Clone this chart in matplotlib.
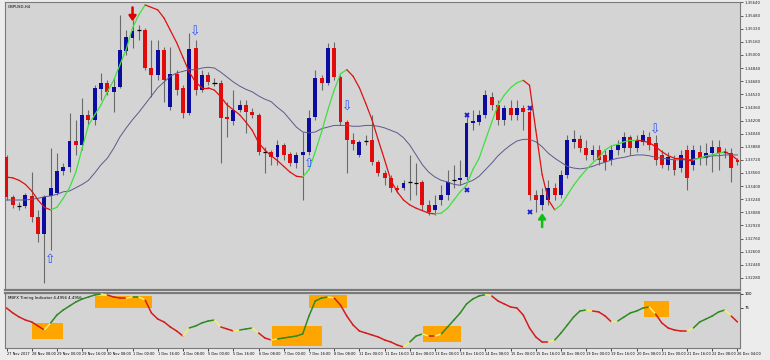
import numpy as np
import matplotlib
matplotlib.use("Agg")
import matplotlib.pyplot as plt
from matplotlib.collections import LineCollection
from matplotlib.patches import Rectangle

# GBPUSD H4 candles
opens = [1.3375, 1.3327, 1.3317, 1.3316, 1.3328, 1.3302, 1.3282, 1.3328, 1.3332, 1.3358,
         1.3363, 1.3395, 1.3390, 1.3427, 1.3421, 1.3458, 1.3466, 1.3455, 1.3461, 1.3505,
         1.3521, 1.3530, 1.3530, 1.3484, 1.3476, 1.3506, 1.3436, 1.3477, 1.3460, 1.3429,
         1.3508, 1.3457, 1.3476, 1.3467, 1.3466, 1.3424, 1.3419, 1.3433, 1.3439, 1.3430,
         1.3427, 1.3382, 1.3382, 1.3375, 1.3390, 1.3379, 1.3368, 1.3378, 1.3382, 1.3424,
         1.3472, 1.3466, 1.3508, 1.3473, 1.3418, 1.3396, 1.3378, 1.3396, 1.3396, 1.3369,
         1.3356, 1.3350, 1.3338, 1.3338, 1.3344, 1.3345, 1.3345, 1.3317, 1.3311, 1.3323,
         1.3329, 1.3347, 1.3347, 1.3351, 1.3417, 1.3418, 1.3427, 1.3449, 1.3439, 1.3421,
         1.3435, 1.3427, 1.3435, 1.3430, 1.3329, 1.3317, 1.3323, 1.3338, 1.3329, 1.3354,
         1.3394, 1.3398, 1.3386, 1.3378, 1.3384, 1.3378, 1.3372, 1.3384, 1.3386, 1.3400,
         1.3386, 1.3394, 1.3400, 1.3393, 1.3378, 1.3366, 1.3372, 1.3362, 1.3384, 1.3366,
         1.3382, 1.3374, 1.3380, 1.3388, 1.3380, 1.3380, 1.3372]
highs = [1.3378, 1.3329, 1.3321, 1.3332, 1.3357, 1.3311, 1.3329, 1.3386, 1.3380, 1.3368,
         1.3429, 1.3421, 1.3447, 1.3433, 1.3463, 1.3478, 1.3469, 1.3472, 1.3549, 1.3530,
         1.3543, 1.3537, 1.3533, 1.3518, 1.3518, 1.3510, 1.3510, 1.3482, 1.3463, 1.3527,
         1.3518, 1.3482, 1.3479, 1.3472, 1.3469, 1.3443, 1.3457, 1.3445, 1.3445, 1.3435,
         1.3429, 1.3388, 1.3384, 1.3396, 1.3393, 1.3382, 1.3382, 1.3406, 1.3433, 1.3482,
         1.3476, 1.3515, 1.3516, 1.3476, 1.3421, 1.3405, 1.3396, 1.3402, 1.3427, 1.3372,
         1.3360, 1.3354, 1.3341, 1.3347, 1.3378, 1.3368, 1.3347, 1.3323, 1.3329, 1.3341,
         1.3360, 1.3366, 1.3372, 1.3427, 1.3433, 1.3433, 1.3457, 1.3455, 1.3445, 1.3439,
         1.3445, 1.3445, 1.3439, 1.3435, 1.3335, 1.3338, 1.3347, 1.3344, 1.3360, 1.3402,
         1.3408, 1.3402, 1.3396, 1.3390, 1.3390, 1.3384, 1.3390, 1.3396, 1.3406, 1.3402,
         1.3402, 1.3408, 1.3406, 1.3402, 1.3384, 1.3382, 1.3378, 1.3384, 1.3390, 1.3390,
         1.3390, 1.3393, 1.3396, 1.3396, 1.3386, 1.3386, 1.3374]
lows = [1.3323, 1.3313, 1.3311, 1.3313, 1.3296, 1.3272, 1.3222, 1.3262, 1.3329, 1.3354,
        1.3357, 1.3378, 1.3384, 1.3414, 1.3414, 1.3445, 1.3451, 1.3430, 1.3460, 1.3500,
        1.3508, 1.3518, 1.3482, 1.3449, 1.3469, 1.3443, 1.3433, 1.3451, 1.3423, 1.3427,
        1.3451, 1.3455, 1.3463, 1.3462, 1.3368, 1.3400, 1.3414, 1.3430, 1.3405, 1.3423,
        1.3378, 1.3356, 1.3366, 1.3366, 1.3372, 1.3364, 1.3362, 1.3323, 1.3378, 1.3421,
        1.3457, 1.3463, 1.3469, 1.3414, 1.3356, 1.3384, 1.3375, 1.3390, 1.3366, 1.3352,
        1.3341, 1.3333, 1.3332, 1.3335, 1.3323, 1.3329, 1.3311, 1.3305, 1.3305, 1.3317,
        1.3323, 1.3338, 1.3341, 1.3347, 1.3408, 1.3414, 1.3423, 1.3433, 1.3414, 1.3414,
        1.3421, 1.3421, 1.3408, 1.3323, 1.3308, 1.3311, 1.3317, 1.3323, 1.3325, 1.3350,
        1.3386, 1.3382, 1.3372, 1.3372, 1.3366, 1.3360, 1.3366, 1.3378, 1.3382, 1.3378,
        1.3382, 1.3390, 1.3384, 1.3366, 1.3362, 1.3360, 1.3354, 1.3357, 1.3335, 1.3360,
        1.3366, 1.3366, 1.3357, 1.3360, 1.3374, 1.3345, 1.3366]
closes = [1.3327, 1.3317, 1.3316, 1.3329, 1.3302, 1.3282, 1.3327, 1.3338, 1.3358, 1.3363,
          1.3395, 1.3390, 1.3427, 1.3421, 1.3460, 1.3466, 1.3455, 1.3461, 1.3506, 1.3522,
          1.3529, 1.3530, 1.3484, 1.3476, 1.3506, 1.3469, 1.3477, 1.3457, 1.3429, 1.3507,
          1.3457, 1.3476, 1.3467, 1.3466, 1.3423, 1.3422, 1.3433, 1.3439, 1.3430, 1.3427,
          1.3382, 1.3381, 1.3375, 1.3390, 1.3378, 1.3368, 1.3378, 1.3382, 1.3423, 1.3472,
          1.3466, 1.3508, 1.3473, 1.3418, 1.3396, 1.3391, 1.3394, 1.3395, 1.3369, 1.3356,
          1.3350, 1.3338, 1.3335, 1.3344, 1.3345, 1.3344, 1.3317, 1.3308, 1.3317, 1.3329,
          1.3345, 1.3347, 1.3350, 1.3417, 1.3419, 1.3427, 1.3451, 1.3439, 1.3421, 1.3435,
          1.3427, 1.3435, 1.3430, 1.3329, 1.3323, 1.3329, 1.3338, 1.3329, 1.3354, 1.3396,
          1.3398, 1.3386, 1.3378, 1.3384, 1.3372, 1.3369, 1.3384, 1.3390, 1.3400, 1.3386,
          1.3396, 1.3402, 1.3390, 1.3372, 1.3366, 1.3375, 1.3360, 1.3378, 1.3350, 1.3384,
          1.3374, 1.3380, 1.3388, 1.3380, 1.3381, 1.3362, 1.3369]

# fast smoothed line (green up / red down) and slow average
fast_line = [1.3351, 1.3350, 1.3347, 1.3342, 1.3334, 1.3323, 1.3314, 1.3311, 1.3314, 1.3325,
             1.3338, 1.3357, 1.3386, 1.3414, 1.3427, 1.3439, 1.3455, 1.3469, 1.3488, 1.3507,
             1.3533, 1.3549, 1.3561, 1.3558, 1.3555, 1.3545, 1.3530, 1.3515, 1.3497, 1.3479,
             1.3467, 1.3460, 1.3460, 1.3457, 1.3449, 1.3439, 1.3433, 1.3427, 1.3418, 1.3408,
             1.3393, 1.3384, 1.3377, 1.3371, 1.3364, 1.3357, 1.3352, 1.3351, 1.3360, 1.3382,
             1.3406, 1.3433, 1.3457, 1.3477, 1.3482, 1.3474, 1.3460, 1.3441, 1.3421, 1.3396,
             1.3372, 1.3347, 1.3333, 1.3323, 1.3317, 1.3313, 1.3310, 1.3307, 1.3306, 1.3307,
             1.3313, 1.3323, 1.3333, 1.3341, 1.3360, 1.3374, 1.3396, 1.3418, 1.3439, 1.3451,
             1.3460, 1.3466, 1.3469, 1.3463, 1.3408, 1.3354, 1.3323, 1.3311, 1.3317, 1.3329,
             1.3341, 1.3351, 1.3360, 1.3368, 1.3375, 1.3384, 1.3389, 1.3391, 1.3394, 1.3396,
             1.3396, 1.3395, 1.3393, 1.3388, 1.3382, 1.3377, 1.3374, 1.3374, 1.3372, 1.3372,
             1.3374, 1.3377, 1.3378, 1.3380, 1.3382, 1.3378, 1.3372]
slow_line = [1.3323, 1.3323, 1.3323, 1.3323, 1.3324, 1.3325, 1.3327, 1.3328, 1.3330, 1.3333,
             1.3334, 1.3338, 1.3342, 1.3347, 1.3356, 1.3366, 1.3374, 1.3386, 1.3400, 1.3411,
             1.3421, 1.3430, 1.3440, 1.3450, 1.3460, 1.3467, 1.3474, 1.3478, 1.3480, 1.3482,
             1.3482, 1.3484, 1.3485, 1.3484, 1.3479, 1.3473, 1.3467, 1.3462, 1.3458, 1.3455,
             1.3450, 1.3446, 1.3443, 1.3436, 1.3430, 1.3421, 1.3412, 1.3406, 1.3405, 1.3406,
             1.3410, 1.3412, 1.3414, 1.3414, 1.3414, 1.3413, 1.3413, 1.3414, 1.3414, 1.3413,
             1.3411, 1.3408, 1.3405, 1.3399, 1.3390, 1.3378, 1.3366, 1.3357, 1.3351, 1.3347,
             1.3345, 1.3342, 1.3341, 1.3344, 1.3347, 1.3352, 1.3360, 1.3368, 1.3377, 1.3384,
             1.3390, 1.3395, 1.3397, 1.3397, 1.3394, 1.3388, 1.3380, 1.3374, 1.3369, 1.3364,
             1.3362, 1.3361, 1.3362, 1.3364, 1.3367, 1.3369, 1.3372, 1.3374, 1.3375, 1.3377,
             1.3378, 1.3378, 1.3377, 1.3375, 1.3374, 1.3373, 1.3372, 1.3372, 1.3372, 1.3373,
             1.3374, 1.3375, 1.3377, 1.3377, 1.3378, 1.3378, 1.3378]

# MBFX timing oscillator, 0..100
timing = [74.5, 65.5, 58.2, 52.7, 49.1, 41.8, 34.5, 47.3, 61.8, 70.9,
          78.2, 85.5, 90.9, 94.5, 98.2, 100.0, 98.2, 94.5, 92.7, 92.7,
          94.5, 94.5, 89.1, 65.5, 54.5, 49.1, 40.0, 32.7, 23.6, 38.2,
          41.8, 47.3, 50.9, 52.7, 40.0, 36.4, 32.7, 34.5, 36.4, 38.2,
          29.1, 20.0, 16.4, 18.2, 20.0, 21.8, 23.6, 27.3, 60.0, 87.3,
          92.7, 94.5, 92.7, 80.0, 60.0, 43.6, 32.7, 29.1, 25.5, 21.8,
          16.4, 12.7, 7.3, 3.6, 12.7, 23.6, 27.3, 23.6, 23.6, 27.3,
          40.0, 52.7, 65.5, 81.8, 90.9, 96.4, 99.0, 96.4, 87.3, 81.8,
          76.4, 74.5, 61.8, 38.2, 21.8, 12.7, 12.7, 16.4, 29.1, 43.6,
          58.2, 69.1, 70.9, 69.1, 67.3, 60.0, 49.1, 50.9, 58.2, 65.5,
          69.1, 74.5, 76.4, 63.6, 47.3, 38.2, 34.5, 32.7, 32.7, 38.2,
          49.1, 54.5, 60.0, 67.3, 70.9, 60.0, 49.1]

# signal zones on the oscillator: (first bar, last bar, low, high)
zones = [(4.05, 9.0, 18.2, 47.3), (14.0, 23.1, 74.5, 96.4), (42.1, 50.1, 5.5, 41.8),
         (48.0, 54.0, 74.5, 98.2), (66.1, 72.1, 12.7, 41.8), (101.2, 105.2, 58.2, 87.3)]

hollow_up = [(7, 1.3250), (48, 1.3368)]
hollow_down = [(30, 1.3528), (54, 1.3436), (103, 1.3408)]
crosses = [(73, 1.3427), (73, 1.3335), (83, 1.3435), (83, 1.3308)]
sell_arrow = (20, 1.3558, 1.3541)
buy_arrow = (85, 1.3290, 1.3307)

time_labels = ["27 Nov 2017", "28 Nov 08:00", "29 Nov 00:00", "29 Nov 16:00", "30 Nov 08:00",
               "1 Dec 00:00", "1 Dec 16:00", "4 Dec 08:00", "5 Dec 00:00", "5 Dec 16:00",
               "6 Dec 08:00", "7 Dec 00:00", "7 Dec 16:00", "8 Dec 08:00", "11 Dec 00:00",
               "11 Dec 16:00", "12 Dec 08:00", "13 Dec 00:00", "13 Dec 16:00", "14 Dec 08:00",
               "15 Dec 00:00", "15 Dec 16:00", "18 Dec 08:00", "19 Dec 00:00", "19 Dec 16:00",
               "20 Dec 08:00", "21 Dec 00:00", "21 Dec 16:00", "22 Dec 08:00", "26 Dec 04:00"]
price_ticks = [1.3212, 1.3228, 1.3244, 1.3260, 1.3276, 1.3292, 1.3308, 1.3324, 1.3340,
               1.3356, 1.3372, 1.3388, 1.3404, 1.3420, 1.3436, 1.3452, 1.3468, 1.3484,
               1.3500, 1.3516, 1.3532, 1.3548, 1.3564]

BLUE = "#0c0ca0"
RED = "#e00c0c"
BG = "#d4d4d4"
W, H = 770, 360


def px_axes(fig, left, top, right, bottom):
    return fig.add_axes([left / W, 1 - bottom / H, (right - left) / W, (bottom - top) / H])


def colored_line(ax, xs, ys, up_col, down_col, lw, turn_col=None, z=4):
    ys = np.asarray(ys)
    pts = np.column_stack([xs, ys])
    segs = np.stack([pts[:-1], pts[1:]], axis=1)
    d = np.sign(np.diff(ys))
    for i in range(1, len(d)):
        if d[i] == 0:
            d[i] = d[i - 1]
    cols = [up_col if v > 0 else down_col for v in d]
    if turn_col:
        for i in range(1, len(d)):
            if d[i] != d[i - 1]:
                cols[i] = turn_col
    ax.add_collection(LineCollection(segs, colors=cols, linewidths=lw, zorder=z, capstyle="round"))


fig = plt.figure(figsize=(W / 100, H / 100), dpi=100, facecolor="#ececec")
ax = px_axes(fig, 5, 2, 740, 290)
ind = px_axes(fig, 5, 293, 740, 348)

n = len(opens)
x = np.arange(n)
o, h, l, c = map(np.array, (opens, highs, lows, closes))
up = c >= o
doji = np.abs(c - o) < 0.00015
lo = np.minimum(o, c)
hgt = np.abs(c - o)

ax.set_facecolor(BG)
ax.vlines(x, l, h, color="#6a6a6a", lw=0.8, zorder=2)
m = up & ~doji
ax.bar(x[m], hgt[m], bottom=lo[m], width=0.62, color=BLUE, zorder=3)
m = ~up & ~doji
ax.bar(x[m], hgt[m], bottom=lo[m], width=0.62, color=RED, zorder=3)
ax.hlines(c[doji], x[doji] - 0.33, x[doji] + 0.33, color="black", lw=0.9, zorder=3)

ax.plot(x, slow_line, color="#5a5a8c", lw=0.7, zorder=4)
colored_line(ax, x, fast_line, "#3ee03e", "#e01010", 0.9)

for bx, by in hollow_up:
    ax.text(bx, by, "\u21e7", color="#2a50ff", fontsize=9, ha="center", va="center", zorder=6)
for bx, by in hollow_down:
    ax.text(bx, by, "\u21e9", color="#2a50ff", fontsize=9, ha="center", va="center", zorder=6)
for bx, by in crosses:
    ax.plot(bx, by, marker="x", color="#1a1ad0", ms=3.2, mew=1.3, zorder=6)
for (bx, y_from, y_to), col in ((sell_arrow, "#e00000"), (buy_arrow, "#10c010")):
    ax.annotate("", xy=(bx, y_to), xytext=(bx, y_from),
                arrowprops=dict(arrowstyle="-|>,head_width=0.35,head_length=0.5", color=col,
                                lw=1.8, mutation_scale=6, shrinkA=0, shrinkB=0),
                zorder=6)

x0, x1 = -0.24, 116.4
ax.set_xlim(x0, x1)
ax.set_ylim(1.32132, 1.35646)
ax.yaxis.tick_right()
ax.set_yticks(price_ticks[1:])
ax.set_yticklabels([f"{p:.5f}" for p in price_ticks[1:]])
ax.tick_params(axis="y", labelsize=2.8, length=2, width=0.5, pad=1.5, colors="#222222")
ax.set_xticks([])
ax.text(0.004, 0.99, "GBPUSD,H4", transform=ax.transAxes, fontsize=2.8, va="top", ha="left")

# oscillator panel
ind.set_facecolor(BG)
for a, b, zl, zh in zones:
    ind.add_patch(Rectangle((a, zl), b - a, zh - zl, color="#ffa500", lw=0, zorder=1))
colored_line(ind, x, timing, "#2e8a22", "#d41c1c", 1.1, turn_col="#f2f070", z=3)
ind.set_xlim(x0, x1)
ind.set_ylim(1.8, 101.8)
ind.yaxis.tick_right()
ind.set_yticks([100, 75])
ind.set_yticklabels(["100", "75"])
ind.tick_params(axis="y", labelsize=2.8, length=2, width=0.5, pad=1.5)
ticks = np.arange(0, 4 * len(time_labels), 4)
ind.set_xticks(ticks)
ind.set_xticklabels(time_labels, ha="left")
ind.tick_params(axis="x", labelsize=2.5, length=2, width=0.5, pad=1)
ind.text(0.004, 0.94, "MBFX Timing Indicator 4.4956 4.4956", transform=ind.transAxes,
         fontsize=2.8, va="top", ha="left")

for a in (ax, ind):
    for s in a.spines.values():
        s.set_color("#7a7a7a")
        s.set_linewidth(0.8)
ax.spines["bottom"].set_linewidth(1.6)
ind.spines["top"].set_linewidth(1.6)

fig.savefig("out.png", dpi=100, facecolor=fig.get_facecolor())
